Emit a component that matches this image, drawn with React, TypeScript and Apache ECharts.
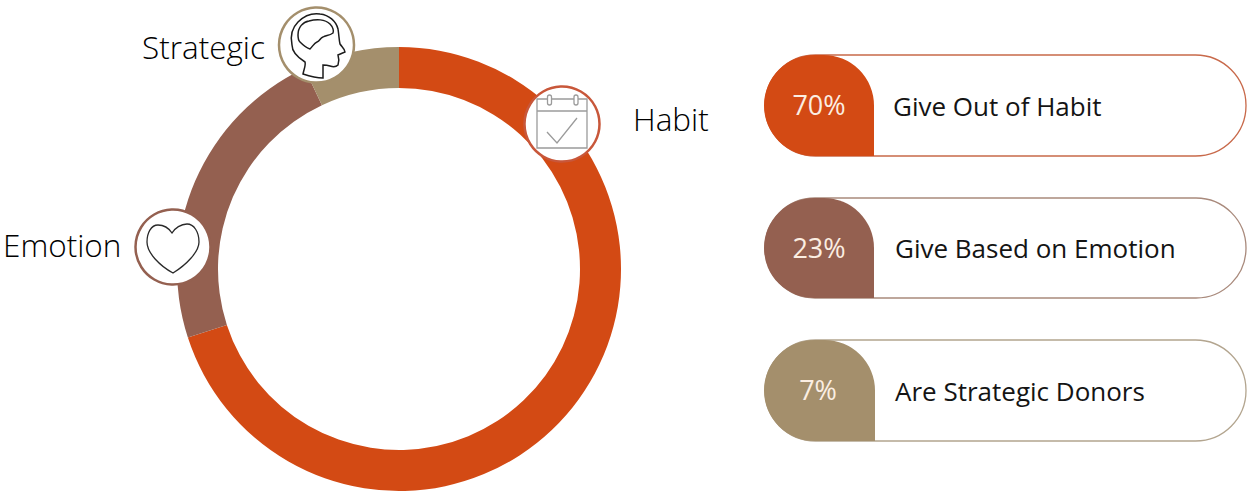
import React, { useEffect, useRef } from "react";
import * as echarts from "echarts";

// Donor motivation shares
const categories = ["Habit", "Emotion", "Strategic"];
const shares = [70, 23, 7];
const colors = ["#d34a14", "#946050", "#a48f6c"];
const outlineColors = ["#c8694a", "#a98a7c", "#b3a58f"];
const descriptions = ["Give Out of Habit", "Give Based on Emotion", "Are Strategic Donors"];

const WIDTH = 1247;
const HEIGHT = 500;
const FONT = "'Open Sans', 'Noto Sans', sans-serif";

const pillTops = [55, 198, 340];
const pillHeights = [101, 100, 101];
const pillFillRight = [874, 874, 875];
const pillTextX = [893, 895, 895];
const pctCenterX = [819, 819, 818];

const HEART =
  "M172 233 C168 227 163 225 158 225 C151 225 147 233 147 242 C147 253 160 266 173 273 C186 265 199 252 199 242 C199 232 194 224 187 224 C181 224 175 228 172 233 Z";
const HEAD =
  "M303 74 C304 69 306 65 305 62 C297 57 292 52 292 45 C290 36 292 28 298 22 C305 15 313 13 320 14 C329 15 336 21 338 29 C339 35 339 40 340 44 C342 47 345 49 345 52 L338 55 C339 58 339 62 338 65 C336 67 333 67 330 66 C327 65 325 65 323 65 L323 78 C316 78 309 76 303 74 Z";
const BRAIN =
  "M298 35 C298 27 303 22 309 21 C316 19 325 19 330 24 C333 27 334 31 333 33 C329 36 326 35 323 37 C320 38 320 41 317 42 C314 43 313 46 310 49 C306 48 303 45 300 42 C298 40 298 38 298 35 Z";

echarts.graphic.registerShape("heartIcon", echarts.graphic.extendPath(HEART, {}));
echarts.graphic.registerShape("headIcon", echarts.graphic.extendPath(HEAD, {}));
echarts.graphic.registerShape("brainIcon", echarts.graphic.extendPath(BRAIN, {}));

function label(text: string, x: number, y: number, fontSize: number, fill: string, align = "left", fontWeight = 400) {
  return {
    type: "text",
    z: 20,
    x,
    y,
    style: { text, fontSize, fontFamily: FONT, fontWeight, fill, align, verticalAlign: "middle" },
  };
}

function badge(cx: number, cy: number, stroke: string) {
  return {
    type: "circle",
    z: 10,
    shape: { cx, cy, r: 37.5 },
    style: { fill: "#ffffff", stroke, lineWidth: 2.5 },
  };
}

function calendarIcon() {
  const stroke = { stroke: "#9b9b9b", lineWidth: 1.3, fill: "none" };
  const line = (x1: number, y1: number, x2: number, y2: number) => ({
    type: "line",
    z: 12,
    shape: { x1, y1, x2, y2 },
    style: stroke,
  });
  return [
    { type: "rect", z: 12, shape: { x: 537, y: 99, width: 50, height: 49 }, style: stroke },
    line(537, 111, 587, 111),
    { type: "rect", z: 13, shape: { x: 547.5, y: 95, width: 4, height: 10, r: 2 }, style: { ...stroke, fill: "#ffffff" } },
    { type: "rect", z: 13, shape: { x: 574, y: 95, width: 4, height: 10, r: 2 }, style: { ...stroke, fill: "#ffffff" } },
    {
      type: "polyline",
      z: 12,
      shape: { points: [[547, 132], [557, 143], [577, 118]] },
      style: stroke,
    },
  ];
}

function pills() {
  return descriptions.flatMap((text, i) => {
    const top = pillTops[i];
    const h = pillHeights[i];
    const r = h / 2;
    return [
      {
        type: "rect",
        z: 5,
        shape: { x: 765, y: top, width: 481, height: h, r },
        style: { fill: "#ffffff", stroke: outlineColors[i], lineWidth: 1.3 },
      },
      {
        type: "rect",
        z: 6,
        shape: { x: 764, y: top, width: pillFillRight[i] - 764, height: h, r: [r, r, 0, r] },
        style: { fill: colors[i] },
      },
      label(`${shares[i]}%`, pctCenterX[i], top + h / 2 - 1, 27, "#fbeee2", "center"),
      label(text, pillTextX[i], top + h / 2, 26, "#141414"),
    ];
  });
}

export default function App() {
  const ref = useRef<HTMLDivElement>(null);

  useEffect(() => {
    const chart = echarts.init(ref.current!, undefined, { renderer: "svg" });
    chart.setOption({
      animation: false,
      backgroundColor: "#ffffff",
      series: [
        {
          type: "pie",
          center: [399, 269],
          radius: [181, 222],
          startAngle: 90,
          clockwise: true,
          silent: true,
          label: { show: false },
          labelLine: { show: false },
          data: categories.map((name, i) => ({
            name,
            value: shares[i],
            itemStyle: { color: colors[i] },
          })),
        },
      ],
      graphic: {
        elements: [
          badge(562, 124, "#c8573a"),
          ...calendarIcon(),
          badge(173, 247, "#946050"),
          { type: "heartIcon", z: 12, style: { fill: "none", stroke: "#2a2a2a", lineWidth: 1.3 } },
          badge(316.5, 45, "#a48f6c"),
          { type: "headIcon", z: 12, style: { fill: "none", stroke: "#1c1c1c", lineWidth: 1.5 } },
          { type: "brainIcon", z: 12, style: { fill: "none", stroke: "#1c1c1c", lineWidth: 1.5 } },
          label(categories[0], 633, 118, 31.5, "#000000", "left", 300),
          label(categories[1], 3, 244, 31.5, "#000000", "left", 300),
          label(categories[2], 142, 46, 31.5, "#000000", "left", 300),
          ...pills(),
        ],
      },
    });
    return () => chart.dispose();
  }, []);

  return (
    <div
      ref={ref}
      style={{ position: "absolute", left: 0, top: 0, width: WIDTH, height: HEIGHT }}
    />
  );
}
